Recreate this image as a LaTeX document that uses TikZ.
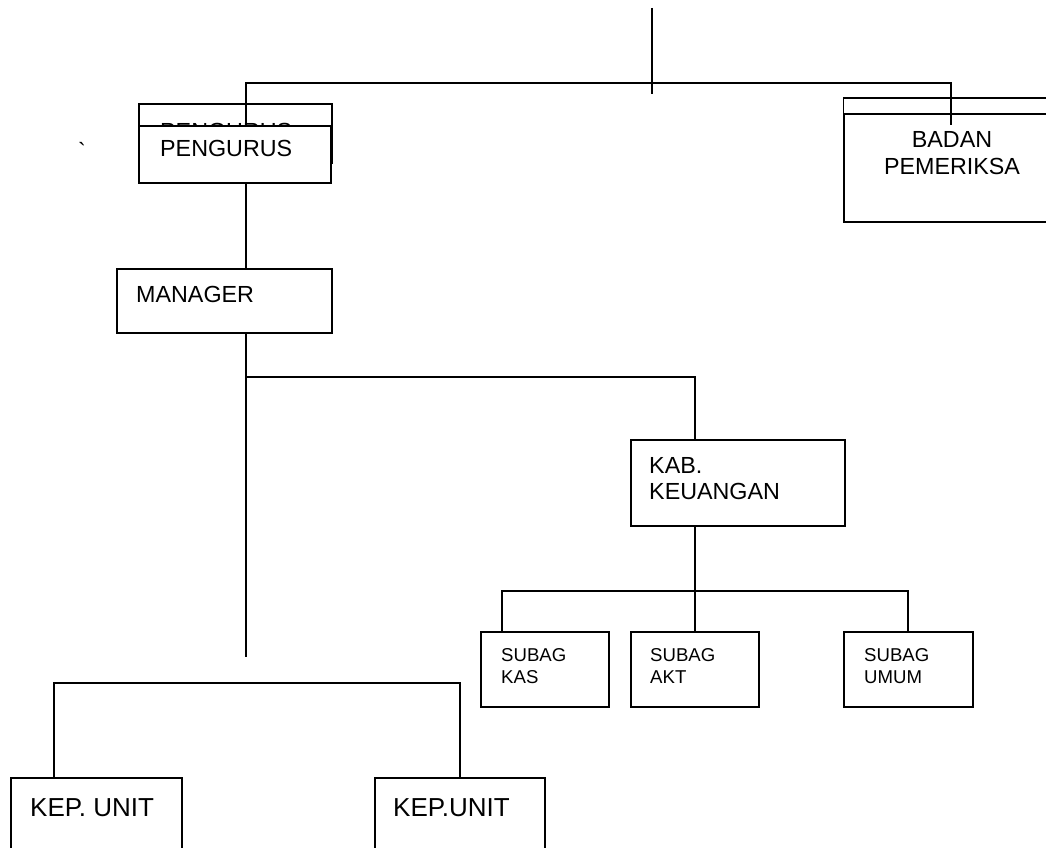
\documentclass[tikz,border=0pt]{standalone}
\usepackage{fontspec}
\setmainfont{Liberation Sans}
\begin{document}
\begin{tikzpicture}[x=1pt,y=-1pt,
  box/.style={draw, line width=1.7pt, fill=white, inner sep=0pt, outer sep=0pt, anchor=north west},
  wire/.style={line width=1.7pt},
  lbl/.style={anchor=base west, inner sep=0pt, font=\fontsize{23.3}{27}\selectfont},
  lblc/.style={anchor=base, inner sep=0pt, font=\fontsize{23.3}{27}\selectfont},
  small/.style={anchor=base west, inner sep=0pt, font=\fontsize{18.6}{22}\selectfont},
  big/.style={anchor=base west, inner sep=0pt, font=\fontsize{26}{30}\selectfont}]
\useasboundingbox (0,0) rectangle (1046,848);

% guide columns for the connectors
\coordinate (spine) at (246,0);
\coordinate (kabx) at (695,0);
\coordinate (kasx) at (502,0);
\coordinate (umumx) at (908,0);
\coordinate (k1) at (54,0);
\coordinate (k2) at (460,0);
\coordinate (top) at (652,8);
\coordinate (bus) at (652,83);
\coordinate (badanin) at (951,125);
\coordinate (tap) at (246,377);
\coordinate (spineend) at (246,657);
\coordinate (subbus) at (695,591);
\coordinate (kepbus) at (0,683);

% stray mark
\node[lbl] (tick) at (78,159) {\textasciigrave};

% board: two stacked boxes
\node[box, minimum width=193, minimum height=59] (pengurusback) at (139,104) {};
\node[lbl] (pengurusbacktxt) at (160,139.5) {PENGURUS};
\node[box, minimum width=192, minimum height=57] (pengurus) at (139,126) {};
\node[lbl] (pengurustxt) at (160,157) {PENGURUS};

% supervisory board: two stacked boxes running off the right edge
\node[box, minimum width=220, minimum height=85] (badanback) at (843.5,98) {};
\node[box, minimum width=220, minimum height=108] (badan) at (844,114) {};
\node[lblc] (badantxt1) at (952,147) {BADAN};
\node[lblc] (badantxt2) at (952,174) {PEMERIKSA};

% manager
\node[box, minimum width=215, minimum height=64] (manager) at (117,269) {};
\node[lbl] (managertxt) at (136,302) {MANAGER};

% finance head
\node[box, minimum width=214, minimum height=86] (kab) at (631,440) {};
\node[lbl] (kabtxt1) at (649,473) {KAB.};
\node[lbl] (kabtxt2) at (649,499) {KEUANGAN};

% finance sub-sections
\node[box, minimum width=128, minimum height=75] (kas) at (481,632) {};
\node[small] at (501,661) {SUBAG};
\node[small] at (501,683) {KAS};
\node[box, minimum width=128, minimum height=75] (akt) at (631,632) {};
\node[small] at (650,661) {SUBAG};
\node[small] at (650,683) {AKT};
\node[box, minimum width=129, minimum height=75] (umum) at (844,632) {};
\node[small] at (864,661) {SUBAG};
\node[small] at (864,683) {UMUM};

% unit heads
\node[box, minimum width=171, minimum height=100] (kep1) at (11,778) {};
\node[big] at (30,816) {KEP. UNIT};
\node[box, minimum width=170, minimum height=100] (kep2) at (375,778) {};
\node[big] at (393,816) {KEP.UNIT};

% connectors
\draw[wire] (top) -- (652,94);
\draw[wire] (pengurus.north -| spine) |- (bus) -| (badanin);
\draw[wire] (pengurus.south -| spine) -- (manager.north -| spine);
\draw[wire] (manager.south -| spine) -- (spineend);
\draw[wire] (tap) -| (kab.north -| kabx);
\draw[wire] (kab.south -| kabx) -- (akt.north -| kabx);
\draw[wire] (kas.north -| kasx) |- (subbus) -| (umum.north -| umumx);
\draw[wire] (kep1.north -| k1) |- (k2 |- kepbus) -- (kep2.north -| k2);
\end{tikzpicture}
\end{document}
